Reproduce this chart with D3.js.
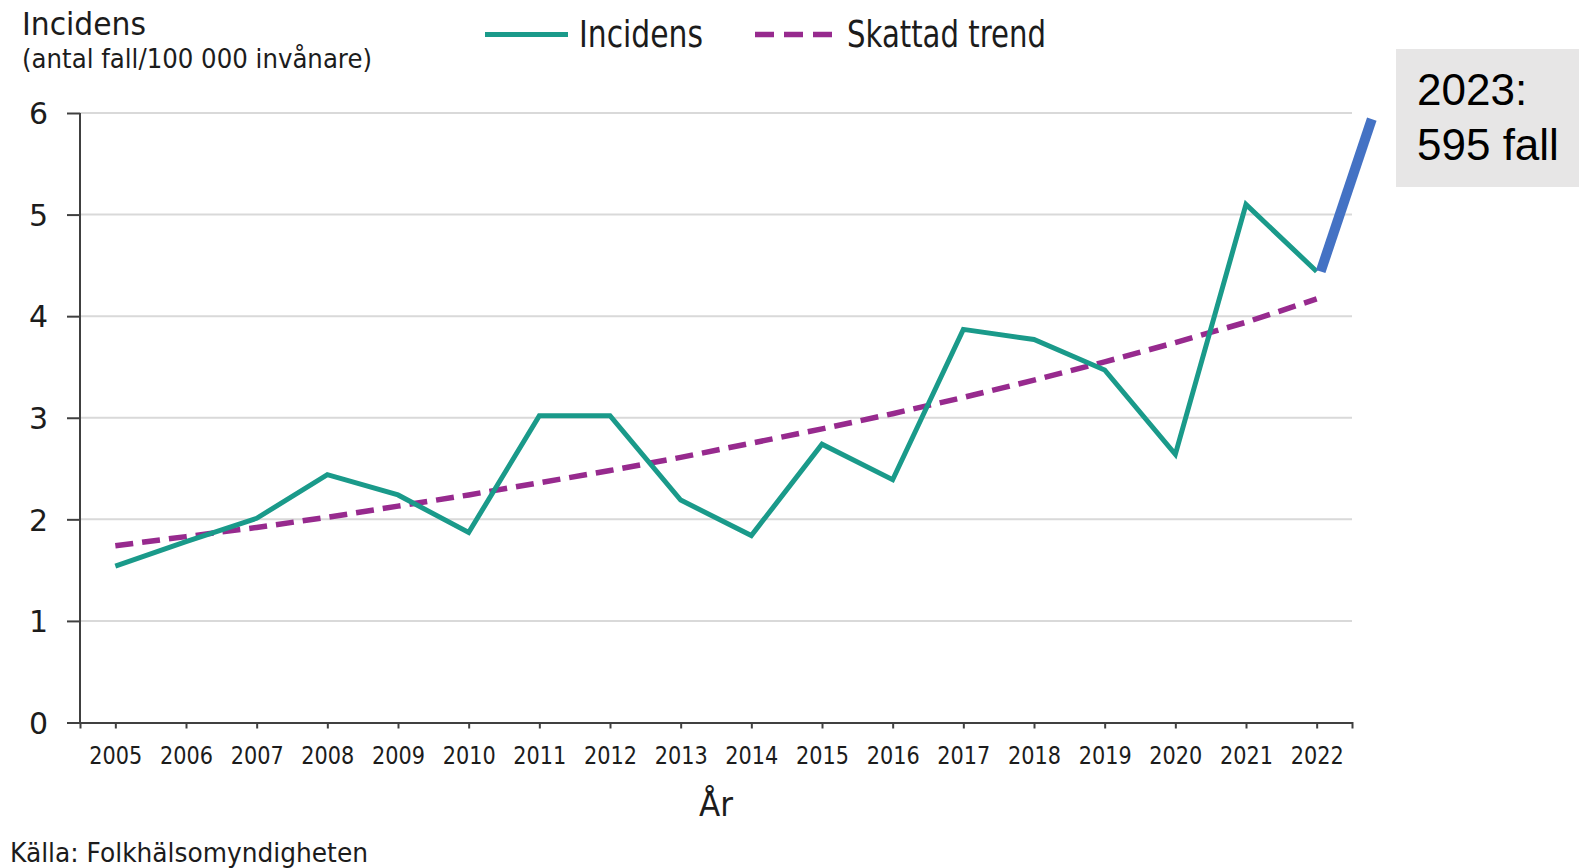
<!DOCTYPE html>
<html>
<head>
<meta charset="utf-8">
<script src="https://cdn.jsdelivr.net/npm/d3@7"></script>
<style>
    html,body{margin:0;padding:0;background:#fff;}
    svg{display:block;}
</style>
</head>
<body>
<svg id="chart" width="1579" height="868"></svg>
<script>
"use strict";

//data
var years = [2005,2006,2007,2008,2009,2010,2011,2012,2013,2014,2015,2016,2017,2018,2019,2020,2021,2022];
var incidens = [1.54,1.78,2.01,2.44,2.24,1.87,3.02,3.02,2.19,1.84,2.74,2.39,3.87,3.77,3.47,2.64,5.10,4.44];
var trend = [1.74,1.83,1.92,2.02,2.13,2.24,2.36,2.48,2.61,2.75,2.89,3.04,3.20,3.37,3.55,3.74,3.94,4.17];
var yTicks = [0,1,2,3,4,5,6];
var annotYear = "2023";
var annotCases = 595;
var annotTopValue = 5.94;

var font = "'DejaVu Sans', Verdana, sans-serif";
var teal = "#1a9a8a";
var purple = "#972a8e";
var axisColor = "#404040";
var textColor = "#1c1c1c";

var svg = d3.select("#chart");

var x = d3.scalePoint()
    .domain(years)
    .range([80,1352])
    .padding(0.5);

var y = d3.scaleLinear()
    .domain([0,6])
    .range([722.5,113]);

/**
 * text with fixed width (original is horizontally squeezed)
 */
function addText(g,str,px,py,size,width,anchor){
    var t = g.append("text")
        .attr("x",px)
        .attr("y",py)
        .attr("font-family",font)
        .attr("font-size",size)
        .attr("fill",textColor)
        .attr("text-anchor",anchor||"start")
        .text(str);
    if(width){
        t.attr("textLength",width).attr("lengthAdjust","spacingAndGlyphs");
    }
    return t;
}

//gridlines
svg.append("g")
    .attr("class","grid")
    .selectAll("line")
    .data(yTicks.filter(function(d){return d>0;}))
    .enter()
    .append("line")
    .attr("x1",80)
    .attr("x2",1352)
    .attr("y1",function(d){return y(d);})
    .attr("y2",function(d){return y(d);})
    .attr("stroke","#d9d9d9")
    .attr("stroke-width",2);

//y axis
var yAxis = svg.append("g")
    .attr("transform","translate(80,0)")
    .call(d3.axisLeft(y).tickValues(yTicks).tickSize(13).tickFormat(d3.format("d")));
yAxis.select(".domain").attr("stroke",axisColor).attr("stroke-width",2).attr("d","M0,"+y(0)+"V"+y(6));
yAxis.selectAll(".tick line").attr("stroke",axisColor).attr("stroke-width",2);
yAxis.selectAll(".tick text")
    .attr("x",-32)
    .attr("dy","0.36em")
    .attr("font-family",font)
    .attr("font-size",30)
    .attr("fill",textColor);

//x axis
var xAxis = svg.append("g")
    .attr("transform","translate(0,"+y(0)+")")
    .call(d3.axisBottom(x).tickSize(6).tickSizeOuter(6));
xAxis.select(".domain").attr("stroke",axisColor).attr("stroke-width",2);
xAxis.selectAll(".tick line").attr("stroke",axisColor).attr("stroke-width",2);
xAxis.selectAll(".tick text")
    .attr("y",41)
    .attr("dy",0)
    .attr("font-family",font)
    .attr("font-size",25)
    .attr("fill",textColor)
    .attr("textLength",53)
    .attr("lengthAdjust","spacingAndGlyphs");

//trend line
var line = d3.line()
    .x(function(d){return x(d[0]);})
    .y(function(d){return y(d[1]);});

svg.append("path")
    .datum(d3.zip(years,trend))
    .attr("d",line)
    .attr("fill","none")
    .attr("stroke",purple)
    .attr("stroke-width",5.5)
    .attr("stroke-dasharray","18,9");

//incidens line
svg.append("path")
    .datum(d3.zip(years,incidens))
    .attr("d",line)
    .attr("fill","none")
    .attr("stroke",teal)
    .attr("stroke-width",5)
    .attr("stroke-linejoin","miter");

//2023 annotation
var lastYear = years[years.length-1];
var lastValue = incidens[incidens.length-1];
svg.append("line")
    .attr("x1",x(lastYear)+4)
    .attr("y1",y(lastValue))
    .attr("x2",x(lastYear)+x.step()*0.78)
    .attr("y2",y(annotTopValue))
    .attr("stroke","#4472c4")
    .attr("stroke-width",10);

var gNote = svg.append("g").attr("class","gNote");
gNote.append("rect")
    .attr("x",1396)
    .attr("y",49)
    .attr("width",183)
    .attr("height",138)
    .attr("fill","#e7e6e6");
gNote.append("text")
    .attr("x",1417)
    .attr("y",105)
    .attr("font-family","'Liberation Sans', Arial, sans-serif")
    .attr("font-size",44)
    .attr("fill","#000")
    .text(annotYear+":");
gNote.append("text")
    .attr("x",1417)
    .attr("y",160)
    .attr("font-family","'Liberation Sans', Arial, sans-serif")
    .attr("font-size",44)
    .attr("fill","#000")
    .text(annotCases+" fall");

//titles
addText(svg,"Incidens",22,35,32,124);
addText(svg,"(antal fall/100 000 invånare)",22,68,27,350);
addText(svg,"År",716,816,34,34,"middle");
addText(svg,"Källa: Folkhälsomyndigheten",10,862,26,358);

//legend
var gLegend = svg.append("g").attr("class","gLegend");
gLegend.append("line")
    .attr("x1",485).attr("x2",568)
    .attr("y1",34.5).attr("y2",34.5)
    .attr("stroke",teal)
    .attr("stroke-width",5);
addText(gLegend,"Incidens",579,47,38,124);
gLegend.append("line")
    .attr("x1",755).attr("x2",832)
    .attr("y1",34.5).attr("y2",34.5)
    .attr("stroke",purple)
    .attr("stroke-width",5.5)
    .attr("stroke-dasharray","19,10");
addText(gLegend,"Skattad trend",847,47,38,199);
</script>
</body>
</html>
